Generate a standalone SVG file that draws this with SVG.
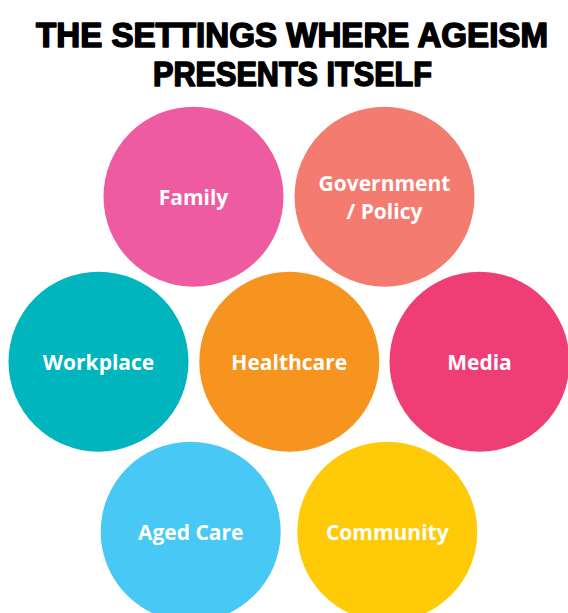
<svg xmlns="http://www.w3.org/2000/svg" width="568" height="613" viewBox="0 0 568 613">
<style>
.title{font-family:"Liberation Sans","Open Sans",sans-serif;font-weight:700;font-size:34.5px;fill:#000;stroke:#000;stroke-width:1.6;stroke-linejoin:round;text-anchor:middle}
.lbl{font-family:"Open Sans","Liberation Sans",sans-serif;font-weight:700;font-size:21px;fill:#fff;text-anchor:middle}
</style>
<rect width="568" height="613" fill="#fff"/>
<g id="title">
<text class="title" x="292" y="47" textLength="512" lengthAdjust="spacingAndGlyphs">THE SETTINGS WHERE AGEISM</text>
<text class="title" x="292.5" y="85.5" textLength="279" lengthAdjust="spacingAndGlyphs">PRESENTS ITSELF</text>
</g>
<g id="connectors"></g>
<g id="family"><circle cx="193.5" cy="196.7" r="90" fill="#EF5BA1"/><text class="lbl" x="193.5" y="205">Family</text></g>
<g id="government"><circle cx="384.5" cy="196.7" r="90" fill="#F47B6F"/><text class="lbl" x="384.5" y="191">Government</text><text class="lbl" x="384.5" y="219">/ Policy</text></g>
<g id="workplace"><circle cx="98.5" cy="361.7" r="90" fill="#00B5BD"/><text class="lbl" x="98.5" y="370">Workplace</text></g>
<g id="healthcare"><circle cx="289.3" cy="361.7" r="90" fill="#F7941F"/><text class="lbl" x="289.3" y="370">Healthcare</text></g>
<g id="media"><circle cx="479.5" cy="361.7" r="90" fill="#EF3E76"/><text class="lbl" x="479.5" y="370">Media</text></g>
<g id="agedcare"><circle cx="190.7" cy="531.7" r="90" fill="#48C8F5"/><text class="lbl" x="190.7" y="540">Aged Care</text></g>
<g id="community"><circle cx="387.3" cy="531.7" r="90" fill="#FFCB08"/><text class="lbl" x="387.3" y="540">Community</text></g>
</svg>
